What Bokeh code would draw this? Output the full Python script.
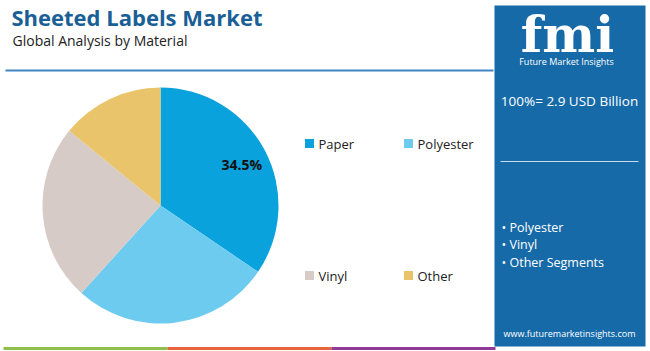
import math
from bokeh.plotting import figure
from bokeh.models import Range1d, ColumnDataSource, Label
from bokeh.core.properties import value
from bokeh.embed import file_html
from bokeh.resources import INLINE

# ---- data ----
categories = ["Paper", "Polyester", "Vinyl", "Other"]
shares = [34.5, 27.2, 24.2, 14.1]
colors = ["#0aa2dc", "#6dcbf0", "#d6cbc6", "#e9c46a"]
title = "Sheeted Labels Market"
subtitle = "Global Analysis by Material"
market_size = "100%= 2.9 USD Billion"
segments = ["Polyester", "Vinyl", "Other Segments"]
site = "www.futuremarketinsights.com"

W, H = 650, 351
FONT = "Open Sans"

def Y(y):
    return H - y

p = figure(width=W, height=H, x_range=Range1d(0, W), y_range=Range1d(0, H),
           output_backend="svg", toolbar_location=None, min_border=0)
p.axis.visible = False
p.grid.visible = False
p.outline_line_color = None
p.background_fill_color = "white"
p.border_fill_color = "white"

# ---- pie ----
total = sum(shares)
starts, ends = [], []
a = math.pi / 2
for s in shares:
    starts.append(a)
    a -= s / total * 2 * math.pi
    ends.append(a)
cx, cy, r = 160, Y(205), 118
src = ColumnDataSource(dict(start=starts, end=ends, color=colors, cat=categories))
p.wedge(x=cx, y=cy, radius=r, start_angle="start", end_angle="end",
        direction="clock", fill_color="color", line_color=None, source=src)

# label for Paper
mid = (starts[0] + ends[0]) / 2
lx = cx + 0.75 * r * math.cos(mid)
ly = cy + 0.75 * r * math.sin(mid)
p.text(x=[lx + 3], y=[ly], text=[f"{shares[0]}%"], text_font=value(FONT),
       text_font_style="bold", text_font_size="14px", text_color="#111111",
       text_align="center", text_baseline="middle")

# ---- legend ----
lg_x = [309, 408, 309, 408]
lg_y = [143, 143, 275, 275]
p.rect(x=lg_x, y=[Y(v) for v in lg_y], width=9, height=9, fill_color=colors, line_color=None)
p.text(x=[v + 9 for v in lg_x], y=[Y(v) for v in lg_y], text=categories,
       text_font=value(FONT), text_font_size="13px", text_color="#222222",
       text_baseline="middle")

# ---- header ----
p.add_layout(Label(x=11, y=Y(31), text=title, text_font=FONT, text_font_style="bold",
                   text_font_size="22px", text_color="#1a5f96"))
p.add_layout(Label(x=12, y=Y(49), text=subtitle, text_font=FONT,
                   text_font_size="14px", text_color="#222222"))
p.line(x=[5, 493], y=[Y(70), Y(70)], line_color="#3f86c2", line_width=2)

# ---- bottom stripes ----
stripe_cols = ["#8cc04a", "#e8643c", "#8e3a96"]
for i, c in enumerate(stripe_cols):
    p.line(x=[3 + i * 164, 3 + (i + 1) * 164], y=[Y(348), Y(348)], line_color=c, line_width=3)

# ---- right panel ----
p.quad(left=494, right=645, top=Y(5), bottom=Y(346), fill_color="#176aa8", line_color=None)
p.add_layout(Label(x=567, y=Y(63), text="fmi", text_font="DejaVu Serif", text_font_style="bold",
                   text_font_size="50px", text_color="white", text_align="center"))
p.add_layout(Label(x=566, y=Y(67), text="Future Market Insights", text_font=FONT,
                   text_font_size="9px", text_color="white", text_align="center"))
p.add_layout(Label(x=569, y=Y(109), text=market_size, text_font=FONT,
                   text_font_size="13.5px", text_color="white", text_align="center"))
p.line(x=[500, 638], y=[Y(161), Y(161)], line_color="#c8dcec", line_width=1)
for i, s in enumerate(segments):
    p.add_layout(Label(x=501, y=Y(235 + i * 17.5), text="• " + s, text_font=FONT,
                       text_font_size="12.5px", text_color="white"))
p.add_layout(Label(x=569, y=Y(339), text=site, text_font=FONT,
                   text_font_size="9px", text_color="white", text_align="center"))

open("out.html", "w").write(file_html(p, INLINE))
